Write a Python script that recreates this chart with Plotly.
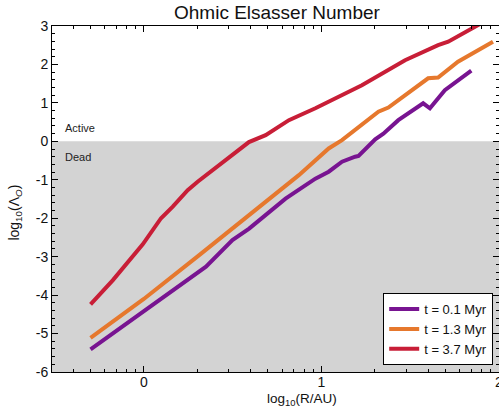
import numpy as np
import plotly.graph_objects as go

# log10(R/AU) and log10(Lambda_O) for each disc age
x_t01 = [-0.30, 0.0, 0.312, 0.35, 0.499, 0.593, 0.798, 0.966, 1.041, 1.116, 1.19, 1.209,
         1.303, 1.349, 1.433, 1.573, 1.611, 1.695, 1.844]
y_t01 = [-5.41, -4.42, -3.39, -3.26, -2.57, -2.27, -1.49, -0.97, -0.79, -0.53, -0.40, -0.38,
         0.05, 0.20, 0.55, 0.99, 0.86, 1.33, 1.84]

x_t13 = [-0.30, 0.0, 0.312, 0.593, 0.686, 0.873, 1.041, 1.116, 1.321, 1.377, 1.601, 1.657,
         1.769, 1.966]
y_t13 = [-5.11, -4.10, -2.96, -1.92, -1.57, -0.88, -0.185, 0.03, 0.77, 0.88, 1.64, 1.66,
         2.07, 2.59]

x_t37 = [-0.30, -0.174, -0.006, 0.097, 0.163, 0.247, 0.303, 0.387, 0.48, 0.592, 0.686,
         0.817, 0.966, 1.097, 1.172, 1.228, 1.471, 1.657, 1.714, 1.882, 1.95]
y_t37 = [-4.24, -3.61, -2.68, -2.0, -1.70, -1.27, -1.05, -0.75, -0.445, -0.02, 0.16,
         0.55, 0.86, 1.16, 1.33, 1.46, 2.11, 2.50, 2.59, 3.02, 3.20]

series_names = ["t = 0.1 Myr", "t = 1.3 Myr", "t = 3.7 Myr"]
series_colors = ["rgb(120,20,145)", "rgb(230,120,45)", "rgb(200,30,55)"]

x_major = [0, 1]
x_edge_label = 2
y_major = [-6, -5, -4, -3, -2, -1, 0, 1, 2, 3]
y_labels = [str(v) for v in y_major]

# log-spaced minor ticks on the radius axis
x_minor = [np.log10(k * 10.0 ** n) for n in (-1, 0, 1) for k in range(2, 10)]
x_minor = [v for v in x_minor if -0.517 < v < 2.0]

FONT = "Liberation Sans, Arial, sans-serif"

fig = go.Figure()
for xs, ys, name, col in zip([x_t01, x_t13, x_t37], [y_t01, y_t13, y_t37],
                             series_names, series_colors):
    fig.add_trace(go.Scatter(x=xs, y=ys, mode="lines", name=name,
                             line=dict(color=col, width=4)))

# dead zone shading below Lambda_O = 1
fig.add_shape(type="rect", xref="paper", yref="y", x0=0, x1=1, y0=-6, y1=0,
              fillcolor="rgb(211,211,211)", line_width=0, layer="below")

fig.add_annotation(text="Active", xref="paper", yref="y", x=0.025, y=0.35,
                   xanchor="left", showarrow=False,
                   font=dict(family=FONT, size=11, color="#222"))
fig.add_annotation(text="Dead", xref="paper", yref="y", x=0.025, y=-0.42,
                   xanchor="left", showarrow=False,
                   font=dict(family=FONT, size=11, color="#222"))

# tick label sitting on the right frame edge
fig.add_annotation(text=str(x_edge_label), xref="x", yref="paper", x=x_edge_label, y=0,
                   yanchor="top", yshift=0, showarrow=False,
                   font=dict(family=FONT, size=14, color="#111"))

fig.add_annotation(text="log<sub>10</sub>(R/AU)", xref="paper", yref="paper",
                   x=0.56, y=-0.107, yanchor="bottom", showarrow=False, borderpad=0,
                   font=dict(family=FONT, size=13.5, color="#111"))
fig.add_annotation(text="log<sub>10</sub>(Λ<sub><i>O</i></sub>)", xref="paper", yref="paper",
                   x=-0.108, y=0.46, textangle=-90, showarrow=False,
                   font=dict(family=FONT, size=14, color="#111"))

fig.update_layout(
    width=499, height=409,
    margin=dict(l=52, r=0, t=26, b=37),
    paper_bgcolor="white", plot_bgcolor="white",
    font=dict(family=FONT, size=14, color="#111"),
    title=dict(text="Ohmic Elsasser Number", x=0.555, xanchor="center", y=0.97,
               yanchor="middle", font=dict(family=FONT, size=19, color="#111")),
    showlegend=True,
    legend=dict(x=0.987, y=0.02, xanchor="right", yanchor="bottom",
                bgcolor="white", bordercolor="black", borderwidth=1,
                font=dict(family=FONT, size=13, color="#111"),
                tracegroupgap=0, itemwidth=30),
)

fig.update_xaxes(range=[-0.517, 2.0], tickmode="array", tickvals=x_major,
                 ticktext=[str(v) for v in x_major], ticklabelstandoff=-3,
                 showgrid=False, zeroline=False, showline=True, linecolor="black",
                 linewidth=1, mirror="ticks", ticks="inside", ticklen=6, tickcolor="black",
                 tickfont=dict(size=14),
                 minor=dict(tickmode="array", tickvals=x_minor, ticks="inside",
                            ticklen=3, tickcolor="black", showgrid=False))
fig.update_yaxes(range=[-6, 3], tickmode="array", tickvals=y_major, ticktext=y_labels,
                 showgrid=False, zeroline=False, showline=True, linecolor="black",
                 linewidth=1, mirror="ticks", ticks="inside", ticklen=6, tickcolor="black",
                 tickfont=dict(size=14),
                 minor=dict(tickmode="linear", tick0=0, dtick=0.2, ticks="inside",
                            ticklen=3, tickcolor="black", showgrid=False))

fig.write_html("out.html")
